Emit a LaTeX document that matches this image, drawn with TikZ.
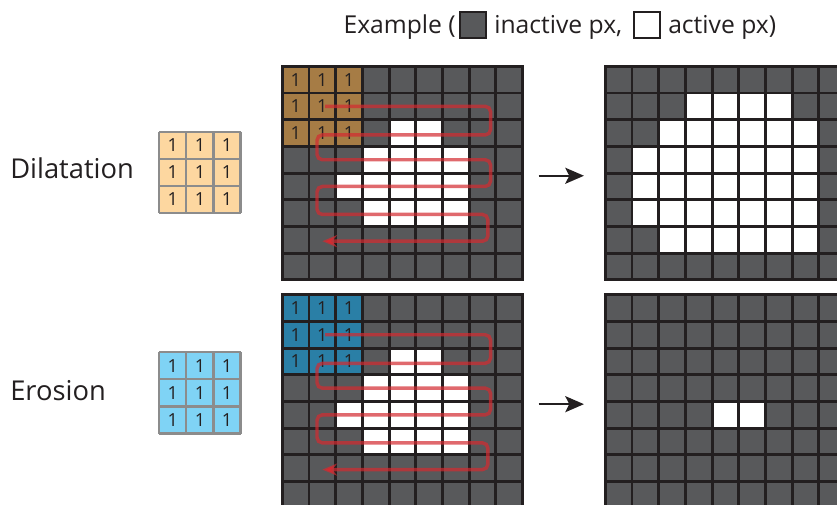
\documentclass[tikz,border=0pt]{standalone}
\usepackage{fontspec}
\setmainfont{Open Sans}
\usetikzlibrary{arrows.meta}

\definecolor{pxoff}{HTML}{58595B}
\definecolor{gridln}{HTML}{231F20}
\definecolor{dilcell}{HTML}{A67C45}
\definecolor{erocell}{HTML}{2A7FA6}
\definecolor{dilker}{HTML}{FDD7A0}
\definecolor{eroker}{HTML}{7FD3F5}
\definecolor{kerln}{HTML}{8C8C8C}
\definecolor{scan}{HTML}{D42A30}

\tikzset{
  rowlabel/.style={font=\fontsize{20.5pt}{25pt}\selectfont, text=gridln, inner sep=0pt},
  legendtext/.style={font=\fontsize{18.5pt}{22pt}\selectfont, text=gridln, inner sep=0pt},
  one/.style={font=\fontsize{13.5pt}{16pt}\selectfont, text=gridln, inner sep=0pt},
  gridline/.style={draw=gridln, line width=2.2pt},
  kernelline/.style={draw=kerln, line width=1.6pt},
  scanpath/.style={draw=scan, draw opacity=0.7, line width=2.6pt, rounded corners=4pt,
    -{Stealth[length=11pt,width=9pt]}},
  result/.style={draw=gridln, line width=1.6pt, -{Stealth[length=14pt,width=12pt,inset=3pt]}},
  swatch/.style={draw=gridln, line width=1.5pt, minimum size=19.5pt, inner sep=0pt},
}

% 9x8 pixel image; #2 active pixels as col/row
\newcommand{\pixgrid}[2]{%
  \fill[pxoff] (0,0) rectangle (9,8);
  \foreach \c/\r in {#2} \fill[white] (\c,\r) rectangle ++(1,1);
}
\newcommand{\pixlines}{%
  \foreach \i in {0,...,9} \draw[gridline] (\i,0) -- (\i,8);
  \foreach \j in {0,...,8} \draw[gridline] (0,\j) -- (9,\j);
  \draw[gridline] (0,0) rectangle (9,8);
}
% 3x3 structuring element drawn as filled cells with ones; #1 fill, #2 name prefix
\newcommand{\ones}[2]{%
  \fill[#1] (0,0) rectangle (3,3);
  \foreach \c in {0,1,2} \foreach \r in {0,1,2}
    \node[one] (#2-\c-\r) at (\c+0.5,\r+0.5) {1};
}

\begin{document}
\begin{tikzpicture}[x=0.75pt, y=-0.75pt]
\useasboundingbox (0,0) rectangle (837,505);
\clip (0,0) rectangle (837,505);

% legend
\node[legendtext, anchor=base west] (ex) at (343.3,33.3) {Example (};
\node[swatch, fill=pxoff] (sw-off) at (473.3,25.5) {};
\node[legendtext, anchor=base west] (lg-off) at (494,33.3) {inactive px,};
\node[swatch, fill=white] (sw-on) at (646.7,25.5) {};
\node[legendtext, anchor=base west] (lg-on) at (668,33.3) {active px)};

% row labels
\node[rowlabel, anchor=base west] (dil) at (10,178.3) {Dilatation};
\node[rowlabel, anchor=base west] (ero) at (10,400) {Erosion};

% structuring elements
\begin{scope}[shift={(159.3,131.7)}, x=20.3pt, y=-20.3pt]
  \ones{dilker}{kd}
  \foreach \i in {0,...,3} {\draw[kernelline] (\i,0) -- (\i,3); \draw[kernelline] (0,\i) -- (3,\i);}
\end{scope}
\begin{scope}[shift={(159.3,352.3)}, x=20.3pt, y=-20.3pt]
  \ones{eroker}{ke}
  \foreach \i in {0,...,3} {\draw[kernelline] (\i,0) -- (\i,3); \draw[kernelline] (0,\i) -- (3,\i);}
\end{scope}

% dilatation: input with sliding element
\begin{scope}[shift={(282.3,66.3)}, x=20.025pt, y=-20.025pt]
  \pixgrid{}{4/2,5/2,3/3,4/3,5/3,6/3,2/4,3/4,4/4,5/4,6/4,3/5,4/5,5/5,6/5}
  \ones{dilcell}{gd}
  \pixlines
  \draw[scanpath] (1.6,1.5) -- (7.8,1.5) -- (7.8,2.57) -- (1.3,2.57) -- (1.3,3.5)
    -- (7.8,3.5) -- (7.8,4.5) -- (1.3,4.5) -- (1.3,5.55) -- (7.7,5.55)
    -- (7.7,6.55) -- (1.5,6.55);
  \coordinate (dil-from) at (9.6,4.1);
\end{scope}

% dilatation: result
\begin{scope}[shift={(605.3,66.3)}, x=20.025pt, y=-20.025pt]
  \pixgrid{}{3/1,4/1,5/1,6/1,
    2/2,3/2,4/2,5/2,6/2,7/2,
    1/3,2/3,3/3,4/3,5/3,6/3,7/3,
    1/4,2/4,3/4,4/4,5/4,6/4,7/4,
    1/5,2/5,3/5,4/5,5/5,6/5,7/5,
    2/6,3/6,4/6,5/6,6/6,7/6}
  \pixlines
  \coordinate (dil-to) at (-0.8,4.1);
\end{scope}

% erosion: input with sliding element
\begin{scope}[shift={(282.3,294.7)}, x=20.025pt, y=-20.025pt]
  \pixgrid{}{4/2,5/2,3/3,4/3,5/3,6/3,2/4,3/4,4/4,5/4,6/4,3/5,4/5,5/5,6/5}
  \ones{erocell}{ge}
  \pixlines
  \draw[scanpath] (1.6,1.5) -- (7.8,1.5) -- (7.8,2.57) -- (1.3,2.57) -- (1.3,3.5)
    -- (7.8,3.5) -- (7.8,4.5) -- (1.3,4.5) -- (1.3,5.55) -- (7.7,5.55)
    -- (7.7,6.55) -- (1.5,6.55);
  \coordinate (ero-from) at (9.6,4.1);
\end{scope}

% erosion: result
\begin{scope}[shift={(605.3,294.7)}, x=20.025pt, y=-20.025pt]
  \pixgrid{}{4/4,5/4}
  \pixlines
  \coordinate (ero-to) at (-0.8,4.1);
\end{scope}

\draw[result] (dil-from) -- (dil-to);
\draw[result] (ero-from) -- (ero-to);
\end{tikzpicture}
\end{document}
